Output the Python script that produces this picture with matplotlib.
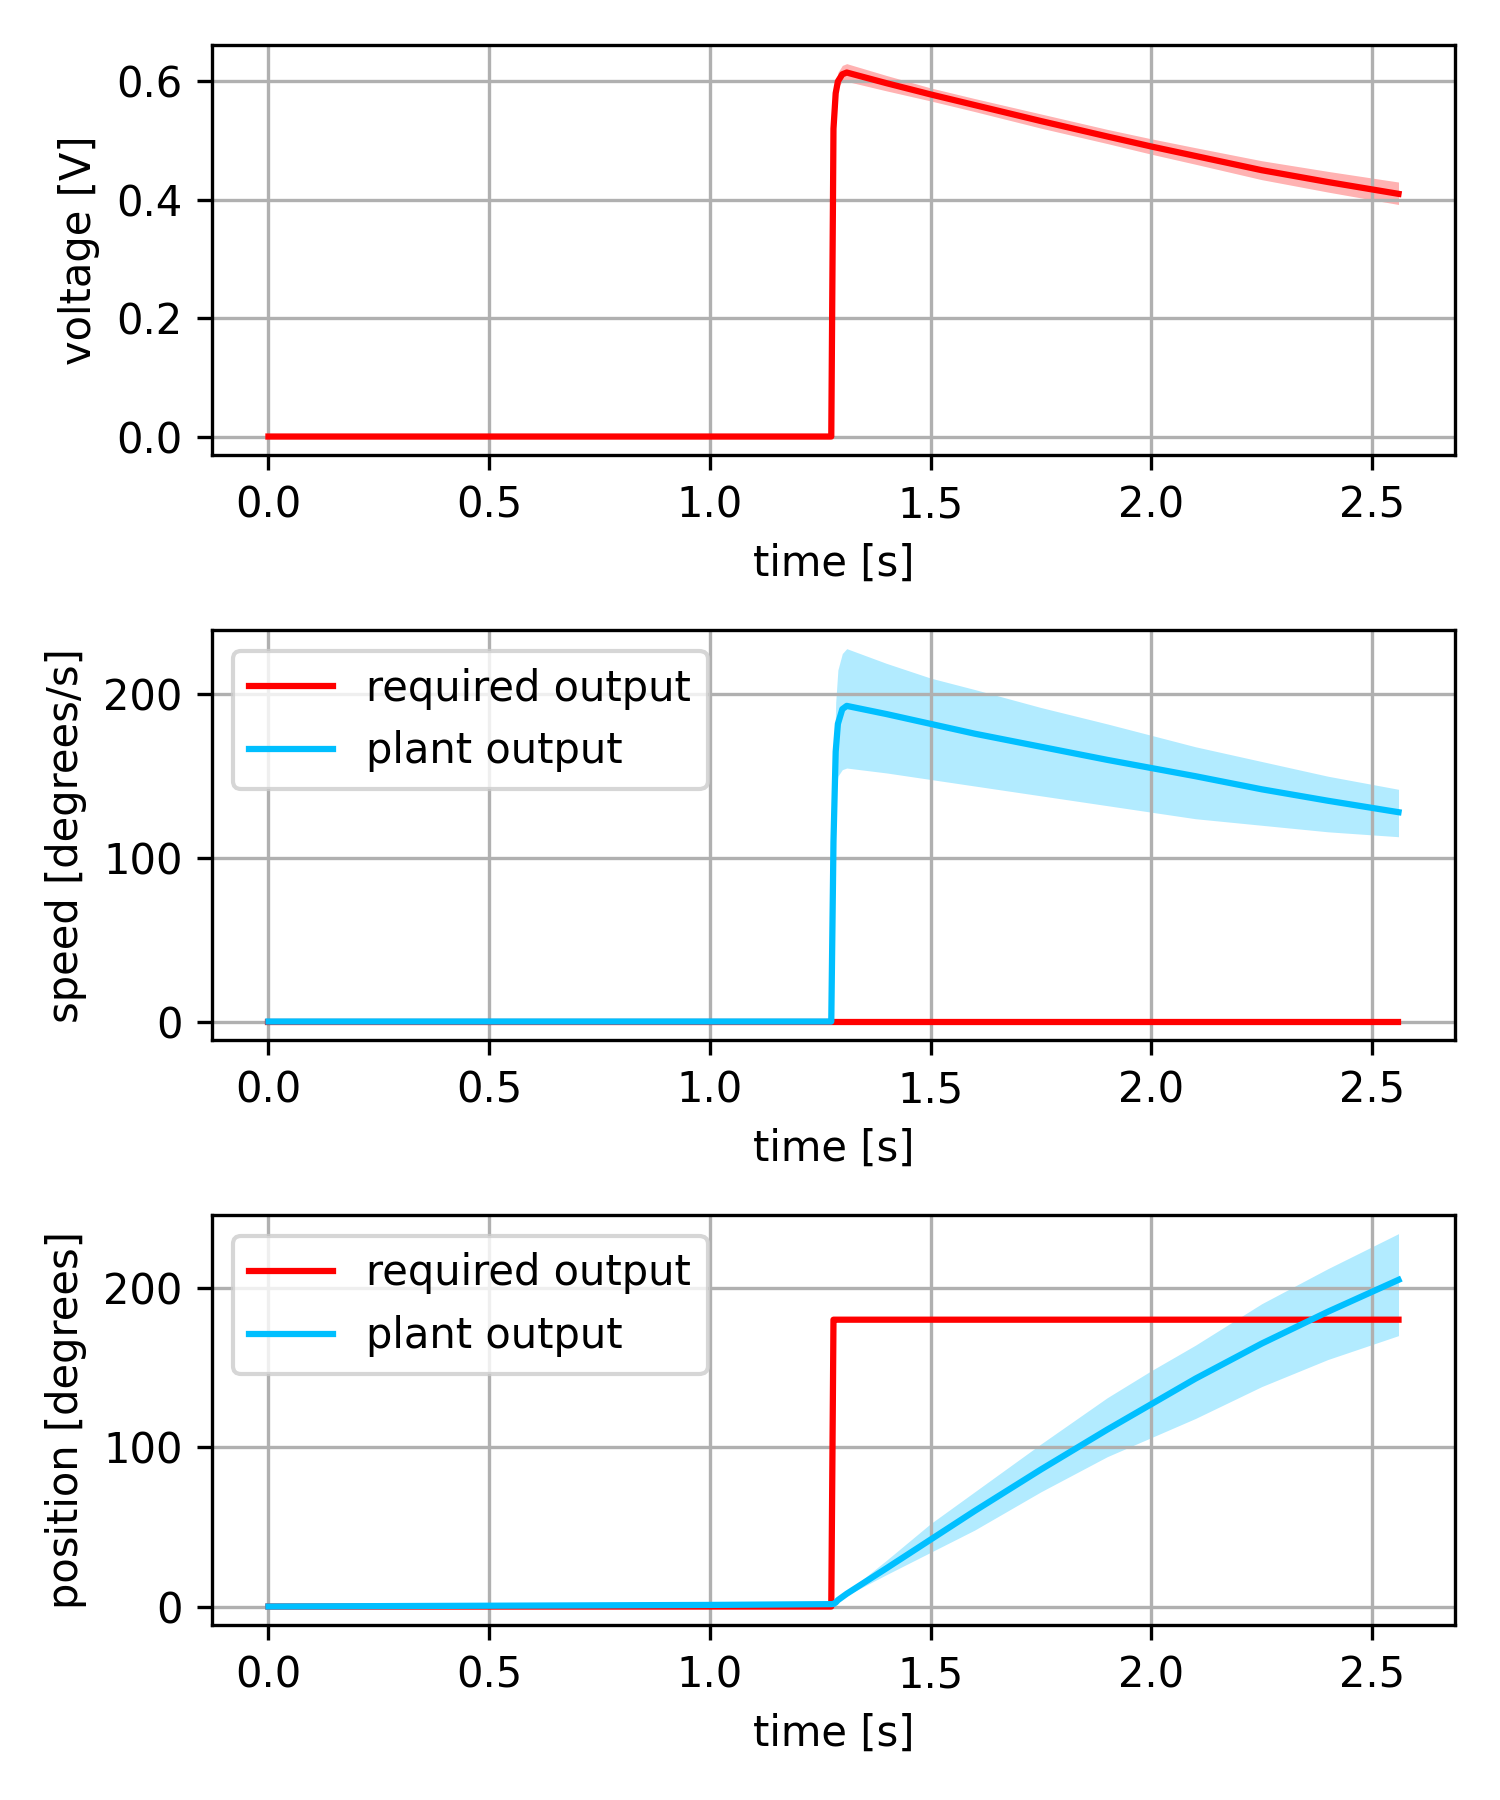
import matplotlib
matplotlib.use('agg')
import matplotlib.pyplot as plt

# values
t = [0.0, 0.5, 1.0, 1.275, 1.28, 1.285, 1.29, 1.30, 1.31, 1.4, 1.5, 1.6, 1.75, 1.9, 2.0, 2.1, 2.25, 2.4, 2.56]

voltage = [0, 0, 0, 0, 0.52, 0.58, 0.60, 0.612, 0.615, 0.597, 0.578, 0.560, 0.533, 0.507, 0.490, 0.474, 0.450, 0.430, 0.410]
voltage_hi = [0, 0, 0, 0, 0.53, 0.59, 0.615, 0.627, 0.630, 0.610, 0.589, 0.571, 0.545, 0.519, 0.503, 0.488, 0.466, 0.448, 0.430]
voltage_lo = [0, 0, 0, 0, 0.51, 0.57, 0.590, 0.600, 0.600, 0.584, 0.567, 0.549, 0.521, 0.495, 0.477, 0.460, 0.434, 0.413, 0.392]

speed_req = [0] * len(t)
speed = [0, 0, 0, 0, 110, 165, 182, 191, 193, 188, 182, 176, 168, 160, 155, 150, 142, 135, 128]
speed_hi = [0, 0, 0, 0, 130, 195, 215, 225, 228, 219, 210, 203, 192, 182, 175, 168, 159, 150, 142]
speed_lo = [0, 0, 0, 0, 95, 140, 150, 154, 155, 152, 148, 144, 138, 132, 128, 124, 120, 116, 113]

pos_req = [0, 0, 0, 0] + [180] * 15
pos = [0, 0.5, 1, 1.5, 1.6, 2.5, 4, 6, 8, 24, 42, 60, 86, 111, 127, 143, 165, 185, 205]
pos_hi = [0, 0.5, 1, 1.5, 1.6, 2.7, 4.5, 6.8, 9, 29, 52, 72, 102, 131, 148, 164, 190, 212, 234]
pos_lo = [0, 0.5, 1, 1.5, 1.6, 2.3, 3.5, 5.2, 7, 20, 34, 48, 72, 94, 106, 118, 138, 155, 170]

blue = '#00bfff'

fig, axes = plt.subplots(3, 1, figsize=(5, 6))

ax = axes[0]
ax.fill_between(t, voltage_lo, voltage_hi, color='red', alpha=0.3, linewidth=0)
ax.plot(t, voltage, color='red')
ax.set_xlabel('time [s]')
ax.set_ylabel('voltage [V]')
ax.grid(True)

ax = axes[1]
ax.plot(t, speed_req, color='red', label='required output')
ax.fill_between(t, speed_lo, speed_hi, color=blue, alpha=0.3, linewidth=0)
ax.plot(t, speed, color=blue, label='plant output')
ax.set_xlabel('time [s]')
ax.set_ylabel('speed [degrees/s]')
ax.grid(True)
ax.legend(loc='upper left')

ax = axes[2]
ax.plot(t, pos_req, color='red', label='required output')
ax.fill_between(t, pos_lo, pos_hi, color=blue, alpha=0.3, linewidth=0)
ax.plot(t, pos, color=blue, label='plant output')
ax.set_xlabel('time [s]')
ax.set_ylabel('position [degrees]')
ax.grid(True)
ax.legend(loc='upper left')

plt.tight_layout()
plt.savefig('out.png', dpi=300)
plt.close()
